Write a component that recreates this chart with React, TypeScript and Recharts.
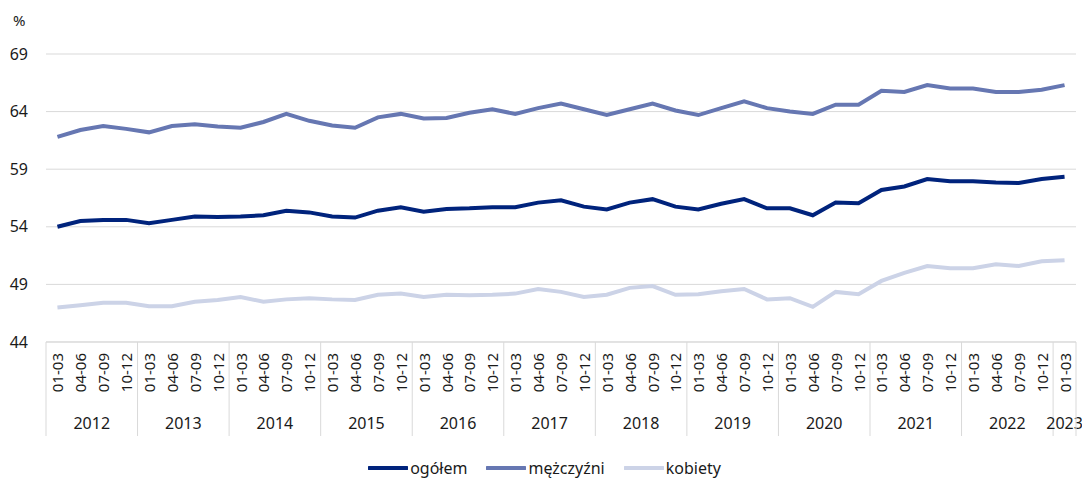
import React from 'react'
import { LineChart, Line, XAxis, YAxis, CartesianGrid, Legend } from 'recharts'

const years = ['2012', '2013', '2014', '2015', '2016', '2017', '2018', '2019', '2020', '2021', '2022', '2023']
const quarterLabels = ['01-03', '04-06', '07-09', '10-12']
const yTicks = [44, 49, 54, 59, 64, 69]

const ogolem = [
  54.0, 54.5, 54.6, 54.6, 54.3, 54.6, 54.9, 54.85, 54.9, 55.0, 55.4, 55.25,
  54.9, 54.8, 55.4, 55.7, 55.3, 55.55, 55.6, 55.7, 55.7, 56.1, 56.3, 55.75,
  55.5, 56.1, 56.4, 55.75, 55.5, 56.0, 56.4, 55.6, 55.6, 55.0, 56.1, 56.05,
  57.2, 57.5, 58.15, 57.95, 57.95, 57.85, 57.8, 58.15, 58.35,
]
const mezczyzni = [
  61.8, 62.4, 62.75, 62.5, 62.2, 62.75, 62.9, 62.7, 62.6, 63.1, 63.8, 63.2,
  62.8, 62.6, 63.5, 63.8, 63.4, 63.45, 63.9, 64.2, 63.8, 64.3, 64.7, 64.2,
  63.7, 64.2, 64.7, 64.1, 63.7, 64.3, 64.9, 64.3, 64.0, 63.8, 64.6, 64.6,
  65.8, 65.7, 66.3, 66.0, 66.0, 65.7, 65.7, 65.9, 66.3,
]
const kobiety = [
  47.0, 47.2, 47.4, 47.4, 47.1, 47.1, 47.5, 47.65, 47.9, 47.5, 47.7, 47.8,
  47.7, 47.65, 48.1, 48.2, 47.9, 48.1, 48.05, 48.1, 48.2, 48.6, 48.35, 47.9,
  48.1, 48.7, 48.85, 48.1, 48.15, 48.4, 48.6, 47.7, 47.8, 47.05, 48.35, 48.15,
  49.3, 50.0, 50.6, 50.4, 50.4, 50.75, 50.6, 51.0, 51.1,
]

const series = [
  { key: 'ogolem', name: 'ogółem', color: '#00237c' },
  { key: 'mezczyzni', name: 'mężczyźni', color: '#6677b2' },
  { key: 'kobiety', name: 'kobiety', color: '#ccd3e7' },
]

const data = ogolem.map((v, i) => ({
  year: years[Math.floor(i / 4)],
  q: quarterLabels[i % 4],
  ogolem: v,
  mezczyzni: mezczyzni[i],
  kobiety: kobiety[i],
}))

const W = 1082
const H = 480
const LEFT = 46
const RIGHT = 6
const BAND = (W - LEFT - RIGHT) / data.length
const FONT = '"Noto Sans", sans-serif'
const GRID = '#d9d9d9'
const TEXT = '#1a1a1a'

// quarter label + year separators/labels drawn under each category
function QuarterTick(props: any) {
  const { x, y, payload } = props
  const i = payload.index
  const d = data[i]
  const first = i % 4 === 0
  const groupLen = data.filter((r) => r.year === d.year).length
  const last = i === data.length - 1
  return (
    <g>
      <text
        transform={`translate(${x},${y + 11}) rotate(-90)`}
        textAnchor="end"
        dominantBaseline="central"
        fontSize={15}
        fontFamily={FONT}
        fill={TEXT}
      >
        {d.q}
      </text>
      {first && (
        <>
          <line x1={x - BAND / 2} x2={x - BAND / 2} y1={y} y2={y + 94} stroke={GRID} />
          <text
            x={x - BAND / 2 + (groupLen * BAND) / 2}
            y={y + 87}
            textAnchor="middle"
            fontSize={16}
            fontFamily={FONT}
            fill={TEXT}
          >
            {d.year}
          </text>
        </>
      )}
      {last && <line x1={x + BAND / 2} x2={x + BAND / 2} y1={y} y2={y + 94} stroke={GRID} />}
    </g>
  )
}

function LegendContent() {
  return (
    <div style={{ display: 'flex', justifyContent: 'center', paddingTop: 20, paddingLeft: 32, fontFamily: FONT, fontSize: 16, color: TEXT }}>
      {series.map((s) => (
        <div key={s.key} style={{ display: 'flex', alignItems: 'center', marginRight: 19 }}>
          <svg width={40} height={10}>
            <line x1={1} x2={39} y1={5} y2={5} stroke={s.color} strokeWidth={4} strokeLinecap="round" />
          </svg>
          <span style={{ marginLeft: 2 }}>{s.name}</span>
        </div>
      ))}
    </div>
  )
}

export default function App() {
  return (
    <div style={{ position: 'absolute', left: 0, top: 0, width: W, height: H, background: '#fff' }}>
      <div style={{ position: 'absolute', left: 13, top: 10, fontFamily: FONT, fontSize: 15, color: TEXT }}>%</div>
      <LineChart width={W} height={H} data={data} margin={{ top: 54, right: RIGHT, left: 0, bottom: 0 }}>
        <CartesianGrid vertical={false} stroke={GRID} />
        <XAxis
          dataKey="q"
          interval={0}
          height={95}
          padding={{ left: BAND / 2, right: BAND / 2 }}
          tickSize={0}
          tickMargin={0}
          tickLine={false}
          axisLine={{ stroke: GRID }}
          tick={<QuarterTick />}
        />
        <YAxis
          domain={[44, 69]}
          ticks={yTicks}
          width={LEFT}
          axisLine={false}
          tickLine={false}
          tickMargin={12}
          tick={{ fontSize: 16, fontFamily: FONT, fill: TEXT }}
        />
        <Legend verticalAlign="bottom" height={43} content={<LegendContent />} />
        {series.map((s) => (
          <Line
            key={s.key}
            dataKey={s.key}
            name={s.name}
            stroke={s.color}
            strokeWidth={4}
            dot={false}
            isAnimationActive={false}
          />
        ))}
      </LineChart>
    </div>
  )
}
